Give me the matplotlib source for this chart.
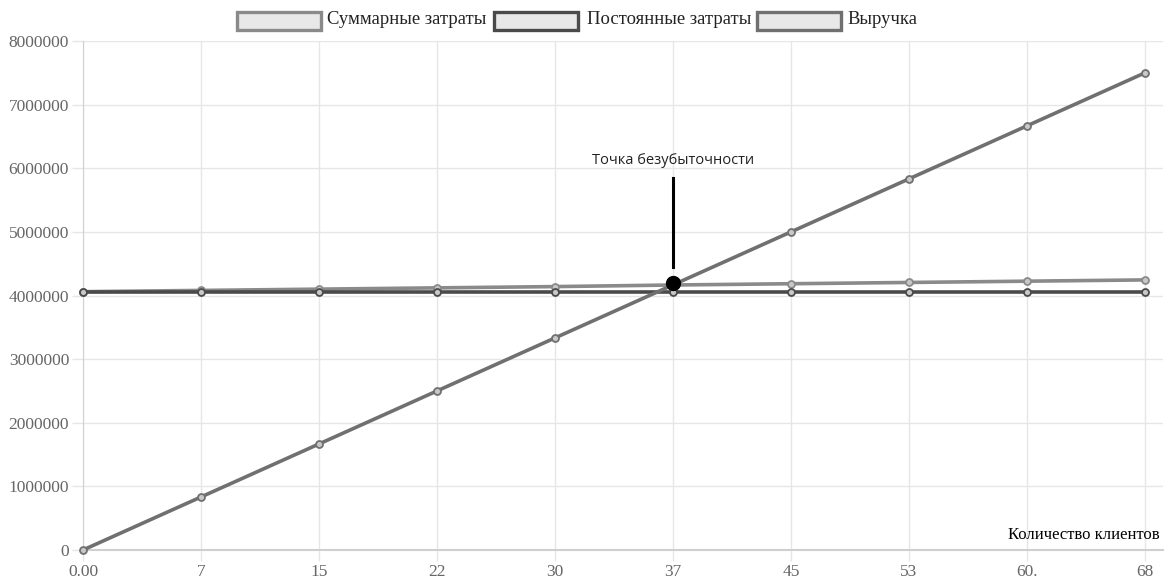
import matplotlib
matplotlib.use("Agg")
import matplotlib.pyplot as plt
from matplotlib.patches import Rectangle

# Break-even chart data
clients = ["0.00", "7", "15", "22", "30", "37", "45", "53", "60.", "68"]
total_costs = [4060000, 4080000, 4100000, 4120000, 4140000,
               4165000, 4185000, 4205000, 4225000, 4245000]
fixed_costs = [4060000, 4060000, 4060000, 4060000, 4060000,
               4060000, 4060000, 4060000, 4060000, 4060000]
revenue = [0, 833333, 1666667, 2500000, 3333333,
           4166667, 5000000, 5833333, 6666667, 7500000]
y_ticks = [0, 1000000, 2000000, 3000000, 4000000,
           5000000, 6000000, 7000000, 8000000]
breakeven_index = 5
breakeven_value = 4200000

series_names = ["Суммарные затраты", "Постоянные затраты", "Выручка"]
series_colors = ["#8a8a8a", "#4a4a4a", "#707070"]

W, H = 1174, 581
fig = plt.figure(figsize=(W / 100, H / 100), dpi=100)
ax = fig.add_axes([83 / W, 31 / H, (1163 - 83) / W, (550 - 41) / H])

xs = list(range(len(clients)))
for vals, col in zip([total_costs, fixed_costs, revenue], series_colors):
    ax.plot(xs, vals, color=col, lw=2.6, marker="o", ms=5,
            mfc="#c8c8c8", mec=col, mew=1.3, zorder=3, clip_on=False)

ax.set_xlim(0, 9 + 18 / 118)
ax.set_ylim(0, 8000000)
ax.set_xticks(xs)
ax.set_xticklabels(clients)
ax.set_yticks(y_ticks)
ax.set_yticklabels([str(v) for v in y_ticks])

serif = ["Liberation Serif", "DejaVu Serif"]
for lbl in ax.get_xticklabels() + ax.get_yticklabels():
    lbl.set_fontfamily(serif)
    lbl.set_fontsize(12.5)
    lbl.set_color("#666666")

ax.grid(True, color="#e6e6e6", lw=1)
ax.set_axisbelow(True)
ax.tick_params(axis="both", length=8, width=1, color="#e6e6e6", pad=2)
for side in ["top", "right"]:
    ax.spines[side].set_visible(False)
ax.spines["left"].set_color("#d0d0d0")
ax.spines["bottom"].set_color("#cfcfcf")
ax.spines["bottom"].set_linewidth(1.5)

# Break-even marker and label
ax.plot([breakeven_index], [breakeven_value], "o", color="black", ms=10, zorder=5)
ax.plot([breakeven_index, breakeven_index], [4450000, 5850000],
        color="black", lw=2.2, zorder=4)
ax.text(breakeven_index, 6120000, "Точка безубыточности", ha="center",
        va="center", fontsize=10.5, family=["Open Sans", "DejaVu Sans"],
        color="#222222")

# Axis title at the right end of the x axis
fig.text(1160 / W, 1 - 535 / H, "Количество клиентов", ha="right",
         va="center", fontsize=12, family=serif, color="black")

# Legend row across the top
legend_items = [(237, 327), (494, 587), (757, 847)]
for (bx, tx), name, col in zip(legend_items, series_names, series_colors):
    fig.patches.append(Rectangle((bx / W, 1 - 30 / H), 84 / W, 18 / H,
                                 transform=fig.transFigure, facecolor="#e8e8e8",
                                 edgecolor=col, lw=2.4))
    fig.text(tx / W, 1 - 20 / H, name, ha="left", va="center", fontsize=13.4,
             family=serif, color="#222222")

fig.savefig("out.png", dpi=100)
